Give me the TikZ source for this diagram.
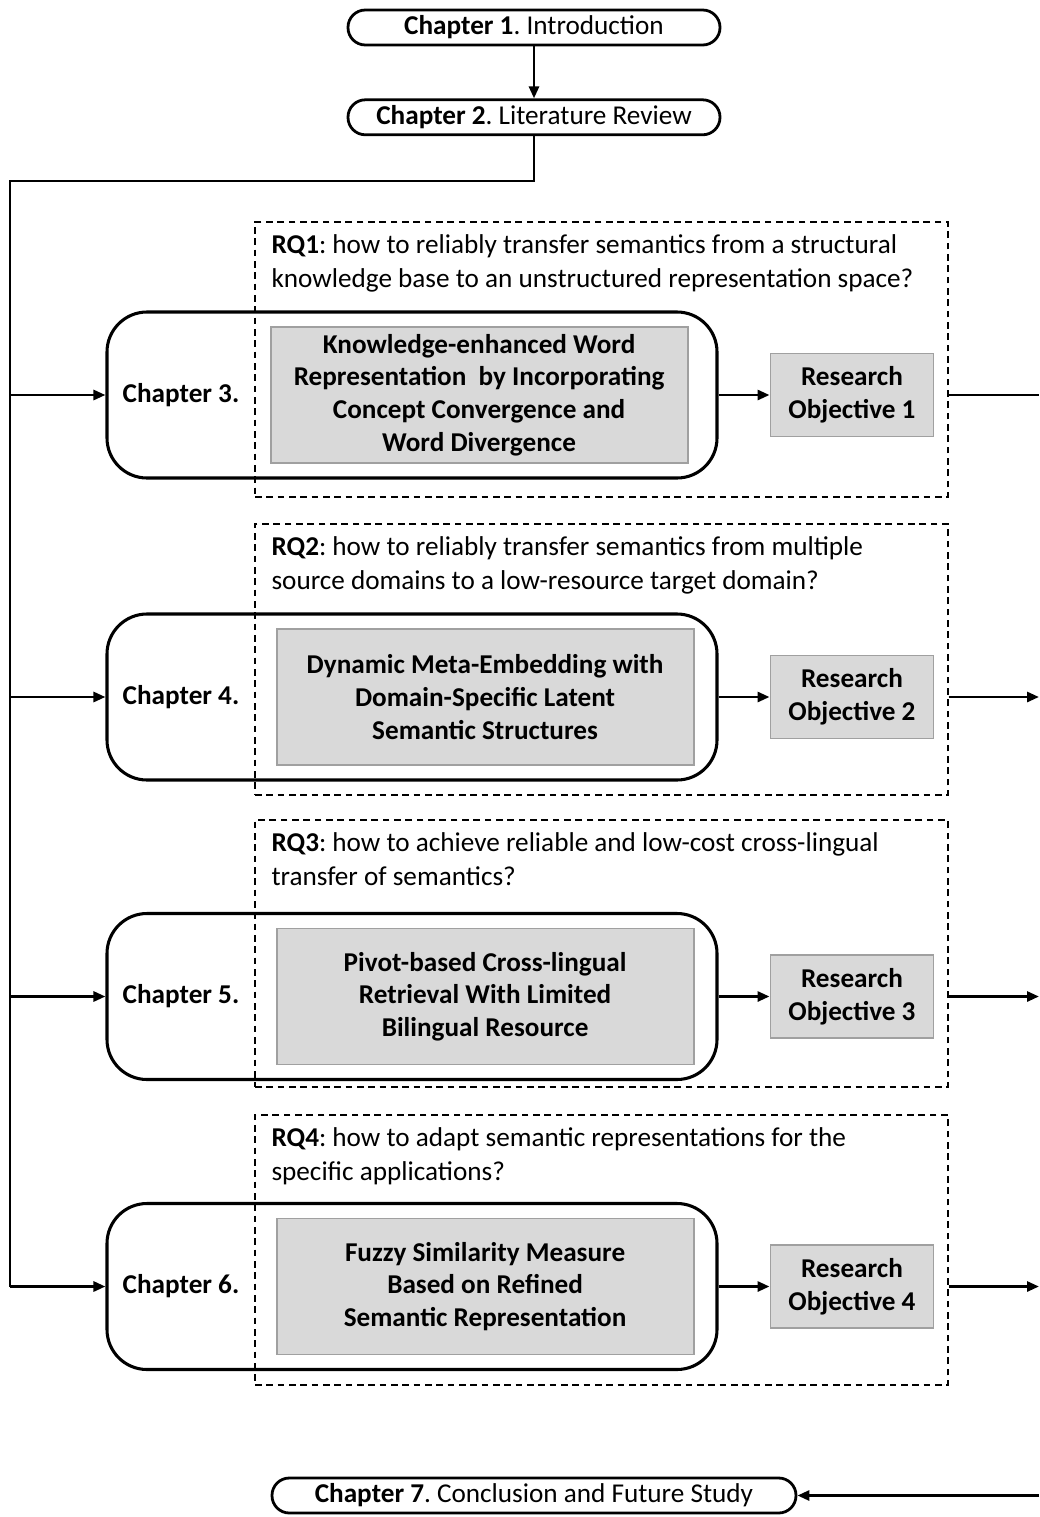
\documentclass[tikz,border=0pt]{standalone}
\usepackage{fontspec}
\setmainfont{Carlito}
\frenchspacing
\usetikzlibrary{arrows.meta,calc,positioning}

\begin{document}
\begin{tikzpicture}[
    x=0.75pt, y=-0.75pt,
    font=\fontsize{20.4}{25.5}\selectfont,
    >={Triangle[length=9pt,width=7.5pt]},
    pill/.style={
        draw=black,
        rounded corners=13pt,
        minimum height=26.25pt,
        minimum width=#1,
        inner sep=0pt,
        line width=2.1pt
    },
    pill/.default=279pt,
    chapterbox/.style={
        draw=black,
        rounded corners=30pt,
        minimum height=124.5pt,
        minimum width=457.5pt,
        inner sep=0pt,
        line width=2.3pt
    },
    chaptername/.style={font=\fontsize{20.4}{25.5}\selectfont\bfseries, inner sep=0pt},
    topic/.style={
        draw=boxedge,
        fill=boxfill,
        minimum height=102pt,
        minimum width=312.75pt,
        align=center,
        inner sep=2pt,
        line width=1.4pt,
        font=\fontsize{20.4}{24.5}\selectfont\bfseries
    },
    objective/.style={
        draw=boxedge,
        fill=boxfill,
        minimum height=62.25pt,
        minimum width=122.25pt,
        align=center,
        inner sep=2pt,
        line width=1.4pt,
        font=\fontsize{20.4}{24.5}\selectfont\bfseries
    },
    question/.style={
        draw=black,
        dash pattern=on 5pt off 3.5pt,
        minimum width=519.75pt,
        minimum height=#1,
        inner sep=0pt,
        line width=1.1pt
    },
    asked/.style={align=left, anchor=north west, inner sep=0pt},
    flow/.style={->, line width=2.1pt},
    rail/.style={line width=2.1pt}
]

\definecolor{boxfill}{RGB}{217,217,217}
\definecolor{boxedge}{RGB}{160,160,160}

\useasboundingbox (0,0) rectangle (1039,1517);

% A. Opening chapters
\node[pill] at (534,27.5) (ch1) {\textbf{Chapter 1}. Introduction};
\node[pill, below=39pt of ch1] (ch2) {\textbf{Chapter 2}. Literature Review};

\draw[flow] (ch1) -- (ch2);

% B. RQ1 -- chapter 3
\node[question=206.25pt] at (601.5,359.5) (rq1) {};
\node[asked] at ($(rq1.north west)+(17,13)$) (rq1text) {\textbf{RQ1}: how to reliably transfer semantics from a structural\\knowledge base to an unstructured representation space?};
\node[chapterbox] at (412,395) (ch3) {};
\node[chaptername, right=12.75pt of ch3.west] (ch3name) {Chapter 3.};
\node[topic, left=22.5pt of ch3.east] (topic3) {Knowledge-enhanced Word\\Representation\ \ by Incorporating\\Concept Convergence and\\Word Divergence};
\node[objective, right=38.25pt of ch3] (ro1) {Research\\Objective 1};

\draw[flow] (ch3) -- (ro1);

% C. RQ2 -- chapter 4
\node[question=203.25pt] at (601.5,659.5) (rq2) {};
\node[asked] at ($(rq2.north west)+(17,13)$) (rq2text) {\textbf{RQ2}: how to reliably transfer semantics from multiple\\source domains to a low-resource target domain?};
\node[chapterbox] at (412,697) (ch4) {};
\node[chaptername, right=12.75pt of ch4.west] (ch4name) {Chapter 4.};
\node[topic, left=18pt of ch4.east] (topic4) {Dynamic Meta-Embedding with\\Domain-Specific Latent\\Semantic Structures};
\node[objective, right=38.25pt of ch4] (ro2) {Research\\Objective 2};

\draw[flow] (ch4) -- (ro2);

% D. RQ3 -- chapter 5
\node[question=200.25pt] at (601.5,953.5) (rq3) {};
\node[asked] at ($(rq3.north west)+(17,13)$) (rq3text) {\textbf{RQ3}: how to achieve reliable and low-cost cross-lingual\\transfer of semantics?};
\node[chapterbox] at (412,996.5) (ch5) {};
\node[chaptername, right=12.75pt of ch5.west] (ch5name) {Chapter 5.};
\node[topic, left=18pt of ch5.east] (topic5) {Pivot-based Cross-lingual\\Retrieval With Limited\\Bilingual Resource};
\node[objective, right=38.25pt of ch5] (ro3) {Research\\Objective 3};

\draw[flow] (ch5) -- (ro3);

% E. RQ4 -- chapter 6
\node[question=202.5pt] at (601.5,1250) (rq4) {};
\node[asked] at ($(rq4.north west)+(17,13)$) (rq4text) {\textbf{RQ4}: how to adapt semantic representations for the\\specific applications?};
\node[chapterbox] at (412,1286.5) (ch6) {};
\node[chaptername, right=12.75pt of ch6.west] (ch6name) {Chapter 6.};
\node[topic, left=18pt of ch6.east] (topic6) {Fuzzy Similarity Measure\\Based on Refined\\Semantic Representation};
\node[objective, right=38.25pt of ch6] (ro4) {Research\\Objective 4};

\draw[flow] (ch6) -- (ro4);

% F. Closing chapter
\node[pill=393pt] at (534,1495.5) (ch7) {\textbf{Chapter 7}. Conclusion and Future Study};

% G. Left trunk and right rail
\coordinate (trunk) at (10,181);
\coordinate (rail) at (1039,0);

\draw[rail] (ch2.south) |- (trunk) -- (trunk |- ch6.west);
\draw[flow] (trunk |- ch3.west) -- (ch3.west);
\draw[flow] (trunk |- ch4.west) -- (ch4.west);
\draw[flow] (trunk |- ch5.west) -- (ch5.west);
\draw[flow] (trunk |- ch6.west) -- (ch6.west);

\draw[rail] (rq1.east |- ro1) -- (rail |- ro1);
\draw[flow] (rq2.east |- ro2) -- (rail |- ro2);
\draw[flow] (rq3.east |- ro3) -- (rail |- ro3);
\draw[flow] (rq4.east |- ro4) -- (rail |- ro4);
\draw[flow] (rail |- ch7.east) -- (ch7.east);

\end{tikzpicture}
\end{document}
